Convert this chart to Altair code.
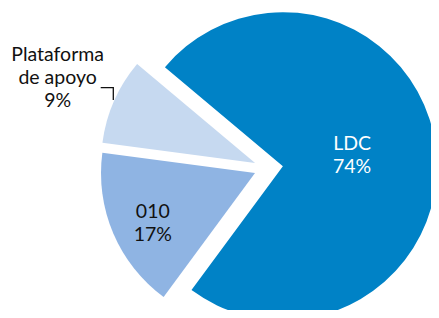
import altair as alt
import pandas as pd

# --- data ---
categories = ["LDC", "010", "Plataforma\nde apoyo"]
shares = [74, 17, 9]

# --- style / layout ---
colors = ["#0082C6", "#8FB4E3", "#C6D9F0"]
text_colors = ["#FFFFFF", "#111111", "#111111"]
explode_px = [16.4, 12.6, 12.6]
label_r = [70, 114, 215]
label_dang = [-1.9, -3.3, -0.5]
start_deg = -50
CX, CY = 258.6, 160.1
RADIUS = 154
LINE_H = 23
leader_x = [92.7, 105.3, 105.3]
leader_y = [79.7, 79.7, 92.0]

label_text = [f"{c}\n{s}%" for c, s in zip(categories, shares)]
df = pd.DataFrame({
    "cat": categories,
    "share": shares,
    "ord": list(range(len(categories))),
    "explode": explode_px,
    "lr": label_r,
    "ldang": label_dang,
    "tc": text_colors,
    "label": label_text,
    "nlines": [t.count("\n") + 1 for t in label_text],
})

base = alt.Chart(df).transform_window(
    cum="sum(share)", sort=[alt.SortField("ord")], frame=[None, 0]
).transform_calculate(
    t0=f"({start_deg} + (datum.cum - datum.share) * 3.6) * PI / 180",
    t1=f"({start_deg} + datum.cum * 3.6) * PI / 180",
).transform_calculate(
    mid="(datum.t0 + datum.t1) / 2"
).transform_calculate(
    cx=f"{CX} + datum.explode * sin(datum.mid)",
    cy=f"{CY} - datum.explode * cos(datum.mid)",
).transform_calculate(
    lx="datum.cx + datum.lr * sin(datum.mid + datum.ldang * PI / 180)",
    ly=f"datum.cy - datum.lr * cos(datum.mid + datum.ldang * PI / 180) - (datum.nlines - 1) * {LINE_H} / 2",
)

arcs = base.mark_arc(radius=RADIUS).encode(
    theta=alt.Theta("t0:Q", scale=None, stack=False),
    theta2="t1:Q",
    x=alt.X("cx:Q", scale=None),
    y=alt.Y("cy:Q", scale=None),
    color=alt.Color("cat:N", scale=alt.Scale(domain=categories, range=colors), legend=None),
)

labels = base.mark_text(
    font="Lato", fontSize=19.5, lineBreak="\n", align="center",
    baseline="middle", lineHeight=LINE_H,
).encode(
    x=alt.X("lx:Q", scale=None),
    y=alt.Y("ly:Q", scale=None),
    text="label:N",
    color=alt.Color("tc:N", scale=None),
)

leader_df = pd.DataFrame({"x": leader_x, "y": leader_y, "i": range(len(leader_x))})
leader = alt.Chart(leader_df).mark_line(color="#111111", strokeWidth=1.3).encode(
    x=alt.X("x:Q", scale=None),
    y=alt.Y("y:Q", scale=None),
    order="i:Q",
)

chart = alt.layer(arcs, labels, leader).properties(
    width=423, height=302, autosize="none", padding=0,
).configure_view(strokeOpacity=0)

chart.save("out.html", embed_options={"renderer": "svg", "actions": False})
